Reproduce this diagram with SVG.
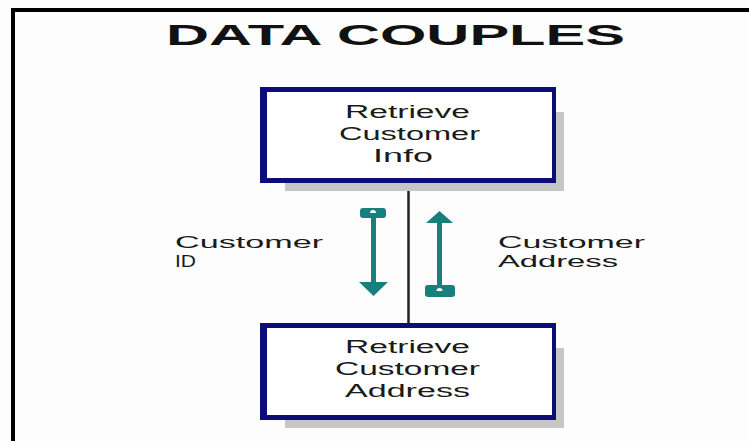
<svg xmlns="http://www.w3.org/2000/svg" width="749" height="441" viewBox="0 0 749 441">
<style>
.frame{fill:#000}
.border{fill:#0d0d7a}
.inner{fill:#ffffff}
.shadow{fill:#c6c6c6}
.txt{font-family:"Liberation Sans",Arial,sans-serif;font-size:18px;fill:#1a1a1a}
.lbl{font-family:"Liberation Sans",Arial,sans-serif;font-size:17px;fill:#1a1a1a}
.title{font-family:"Liberation Sans",Arial,sans-serif;font-size:29px;font-weight:bold;fill:#111}
.couple{fill:#17807d}
.hole{fill:#ffffff}
.conn{stroke:#222;stroke-width:2.5;fill:none}
</style>
<rect x="0" y="0" width="749" height="441" fill="#fdfdfd"/>
<g id="frame">
<rect class="frame" x="11" y="8" width="738" height="4"/>
<rect class="frame" x="11" y="8" width="4" height="433"/>
</g>
<text class="title" x="166" y="45" textLength="459" lengthAdjust="spacingAndGlyphs">DATA COUPLES</text>
<g id="connectors">
<line class="conn" x1="408.5" y1="183" x2="408.5" y2="323"/>
</g>
<g id="node-retrieve-customer-info">
<rect class="shadow" x="285" y="183" width="279" height="8"/>
<rect class="shadow" x="556" y="112" width="8" height="79"/>
<rect class="border" x="260" y="87" width="296" height="96"/>
<rect class="inner" x="267" y="92" width="285" height="86"/>
<text class="txt" x="345" y="118" textLength="125" lengthAdjust="spacingAndGlyphs">Retrieve</text>
<text class="txt" x="339" y="140" textLength="141" lengthAdjust="spacingAndGlyphs">Customer</text>
<text class="txt" x="373" y="162" textLength="60" lengthAdjust="spacingAndGlyphs">Info</text>
</g>
<g id="node-retrieve-customer-address">
<rect class="shadow" x="285" y="420" width="279" height="8"/>
<rect class="shadow" x="556" y="348" width="8" height="80"/>
<rect class="border" x="260" y="323" width="296" height="97"/>
<rect class="inner" x="267" y="328" width="285" height="87"/>
<text class="txt" x="345" y="353" textLength="125" lengthAdjust="spacingAndGlyphs">Retrieve</text>
<text class="txt" x="335" y="375" textLength="145" lengthAdjust="spacingAndGlyphs">Customer</text>
<text class="txt" x="345" y="397" textLength="125" lengthAdjust="spacingAndGlyphs">Address</text>
</g>
<g id="couple-customer-id">
<rect class="couple" x="360" y="208" width="26" height="10" rx="3"/>
<path class="hole" d="M370,213 a3,3 0 0 1 6,0 z"/>
<rect class="couple" x="371" y="217" width="5" height="66"/>
<polygon class="couple" points="359,282 388,282 373.5,296"/>
<text class="lbl" x="175" y="248" textLength="148" lengthAdjust="spacingAndGlyphs">Customer</text>
<text class="lbl" x="175" y="267" textLength="21" lengthAdjust="spacingAndGlyphs">ID</text>
</g>
<g id="couple-customer-address">
<polygon class="couple" points="439.5,211 453,223 426,223"/>
<rect class="couple" x="437" y="222" width="5" height="65"/>
<rect class="couple" x="425" y="285" width="30" height="12" rx="3"/>
<path class="hole" d="M436.5,291 a3,3 0 0 1 6,0 z"/>
<text class="lbl" x="498" y="248" textLength="147" lengthAdjust="spacingAndGlyphs">Customer</text>
<text class="lbl" x="498" y="267" textLength="120" lengthAdjust="spacingAndGlyphs">Address</text>
</g>
</svg>
